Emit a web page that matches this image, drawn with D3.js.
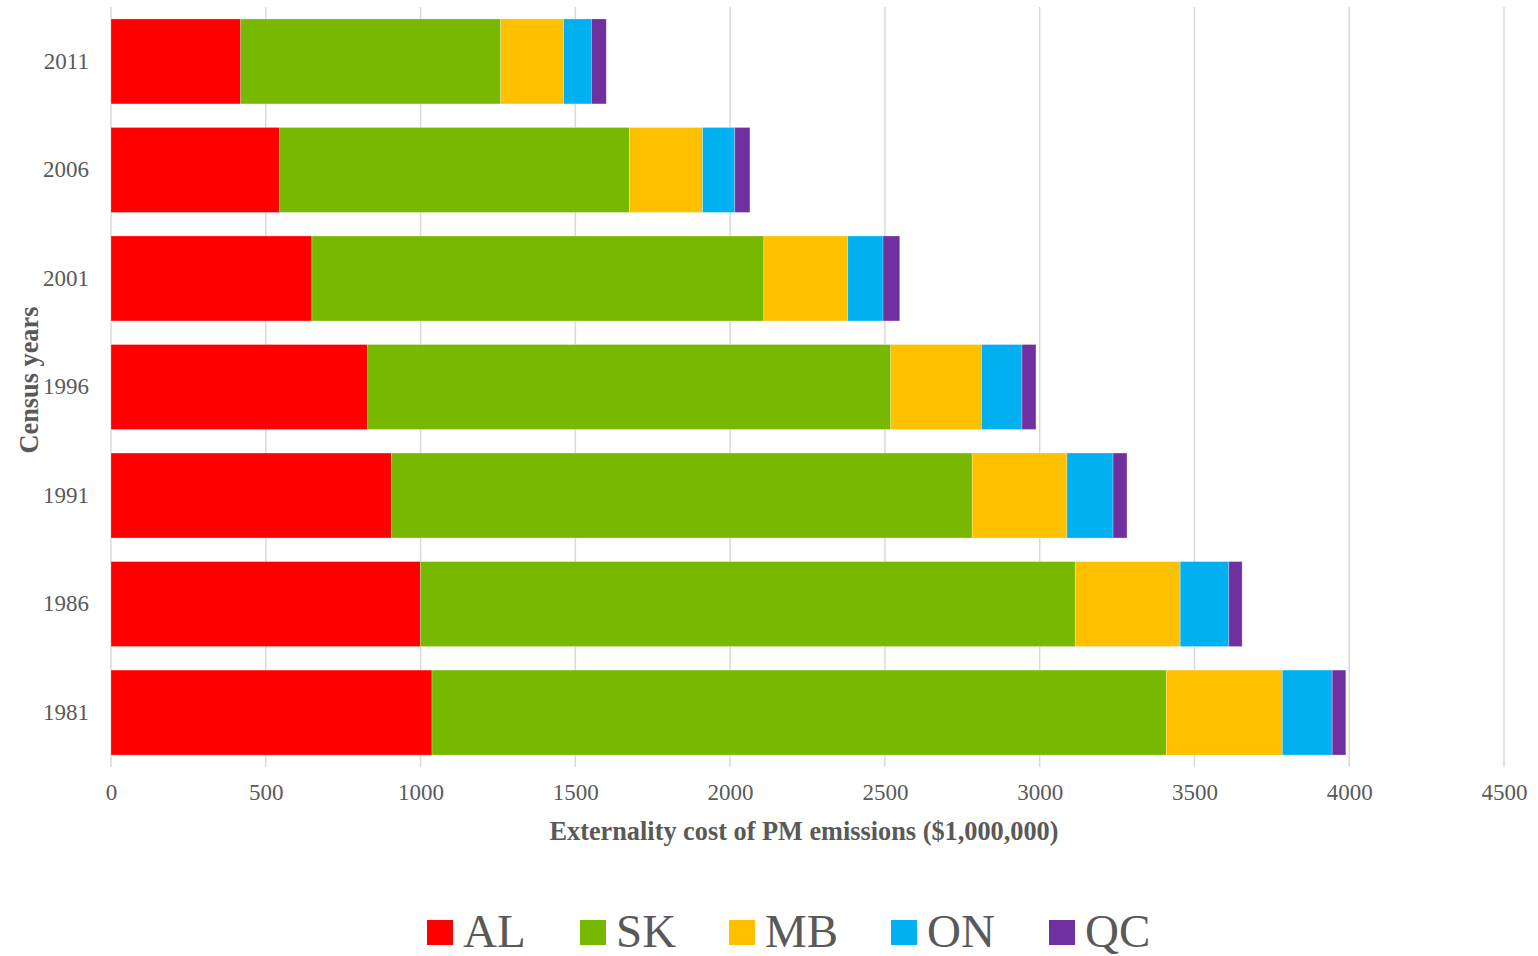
<!DOCTYPE html>
<html><head><meta charset="utf-8">
<script src="https://cdn.jsdelivr.net/npm/d3@7"></script>
<style>
html,body{margin:0;padding:0;background:#fff;}
svg{display:block;font-family:"Liberation Serif","Times New Roman",serif;}
</style></head>
<body>
<svg id="chart" width="1538" height="956"></svg>
<script>
const years = ["2011","2006","2001","1996","1991","1986","1981"];
const seriesNames = ["AL","SK","MB","ON","QC"];
const AL = [419, 545, 649, 829, 906, 1000, 1037];
const SK = [840, 1130, 1460, 1690, 1876, 2115, 2372];
const MB = [203, 236, 271, 293, 306, 339, 375];
const ON = [ 90, 104, 114, 131, 149, 157, 161];
const QC = [ 48,  49,  54,  45,  45,  43,  44];
const xTicks = [0,500,1000,1500,2000,2500,3000,3500,4000,4500];
const colors = ["#FF0000","#77B900","#FFC000","#00B0F0","#7030A0"];

const seriesValues = [AL, SK, MB, ON, QC];
const rows = years.map((y,i)=>{
  const r = {year:y};
  seriesNames.forEach((s,j)=>r[s]=seriesValues[j][i]);
  return r;
});

const svg = d3.select("#chart");
const textColor = "#595959";
const x = d3.scaleLinear().domain([0,4500]).range([111,1504]);
const y = d3.scaleBand().domain(years).range([7,767]).paddingInner(0.217).paddingOuter(0.11);
const color = d3.scaleOrdinal().domain(seriesNames).range(colors);

// gridlines
svg.append("g").selectAll("line").data(xTicks).join("line")
  .attr("x1",d=>x(d)).attr("x2",d=>x(d)).attr("y1",7).attr("y2",767)
  .attr("stroke","#d9d9d9").attr("stroke-width",1.5);

// bars
const stack = d3.stack().keys(seriesNames)(rows);
svg.append("g").selectAll("g").data(stack).join("g")
  .attr("fill",d=>color(d.key))
  .selectAll("rect").data(d=>d).join("rect")
  .attr("x",d=>x(d[0])).attr("width",d=>x(d[1])-x(d[0]))
  .attr("y",d=>y(d.data.year)).attr("height",y.bandwidth())
  .attr("stroke","#ffffff").attr("stroke-opacity",0.35).attr("stroke-width",0.75);

// x axis
const xAxis = svg.append("g").attr("transform","translate(0,767)")
  .call(d3.axisBottom(x).tickValues(xTicks).tickSize(0).tickPadding(17).tickFormat(d3.format("d")));
xAxis.select(".domain").remove();
xAxis.selectAll("text").attr("font-size",23).attr("fill",textColor)
  .attr("font-family","Liberation Serif, Times New Roman, serif");

// y axis
const yAxis = svg.append("g").attr("transform","translate(111,0)")
  .call(d3.axisLeft(y).tickSize(0).tickPadding(22));
yAxis.select(".domain").remove();
yAxis.selectAll("text").attr("font-size",23).attr("fill",textColor)
  .attr("font-family","Liberation Serif, Times New Roman, serif");

// axis titles
svg.append("text").attr("x",804).attr("y",840).attr("text-anchor","middle")
  .attr("font-size",26.3).attr("font-weight","bold").attr("fill",textColor)
  .text("Externality cost of PM emissions ($1,000,000)");
svg.append("text").attr("transform","translate(38,380) rotate(-90)").attr("text-anchor","middle")
  .attr("font-size",26.3).attr("font-weight","bold").attr("fill",textColor)
  .text("Census years");

// legend
const legendX = [427, 580, 729, 891, 1049];
const lg = svg.append("g").selectAll("g").data(seriesNames).join("g")
  .attr("transform",(d,i)=>`translate(${legendX[i]},0)`);
lg.append("rect").attr("x",0).attr("y",920).attr("width",26).attr("height",25).attr("fill",d=>color(d));
lg.append("text").attr("x",36).attr("y",947).attr("font-size",47).attr("fill",textColor).text(d=>d);
</script>
</body></html>
